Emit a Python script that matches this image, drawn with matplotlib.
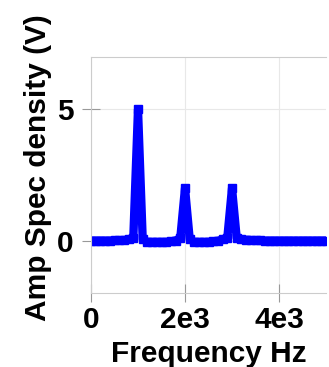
import matplotlib.pyplot as plt

# spectrum samples every 100 Hz
freq = [i * 100 for i in range(51)]
amp = [0.0, 0.0, 0.0, 0.0, 0.0, 0.01, 0.01, 0.02, 0.05, 0.1,
       5.0, 0.05, -0.05, -0.05, -0.05, -0.05, -0.05, -0.03, 0.0, 0.1,
       2.0, 0.05, -0.05, -0.05, -0.05, -0.05, -0.03, -0.01, 0.05, 0.1,
       2.0, 0.1, 0.05, 0.03, 0.02, 0.01, 0.01, 0.0, 0.0, 0.0,
       0.0, 0.0, 0.0, 0.0, 0.0, 0.0, 0.0, 0.0, 0.0, 0.0, 0.0]

xticks = [0, 2000, 4000]
xticklabels = ['0', '2e3', '4e3']
yticks = [0, 5]

plt.rcParams['font.family'] = ['Liberation Sans', 'DejaVu Sans']
plt.rcParams['font.weight'] = 'bold'

fig = plt.figure(figsize=(3.29, 3.67), dpi=100)
ax = fig.add_axes([91 / 329, 1 - 293 / 367, 235 / 329, 236 / 367])

ax.plot(freq, amp, color='blue', linewidth=6, marker='s', markersize=6)

ax.set_xlim(0, 5000)
ax.set_ylim(-2, 7)
ax.set_xticks(xticks)
ax.set_xticklabels(xticklabels)
ax.set_yticks(yticks)
ax.grid(True, color='#e8e8e8', linewidth=0.8)
ax.tick_params(direction='inout', length=13, width=0.8, color='#999999',
               labelsize=21.5)
ax.tick_params(axis='x', pad=3)
ax.tick_params(axis='y', pad=6)
for side in ['left', 'bottom', 'top']:
    ax.spines[side].set_color('#cccccc')
ax.spines['right'].set_visible(False)

ax.set_xlabel('Frequency Hz', fontsize=21.5, fontweight='bold')
ax.set_ylabel('Amp Spec density (V)', fontsize=21.5, fontweight='bold')
ax.xaxis.set_label_coords(0.5, -0.2)
ax.yaxis.set_label_coords(-0.165, 0.53)

fig.savefig('out.png', dpi=100)
